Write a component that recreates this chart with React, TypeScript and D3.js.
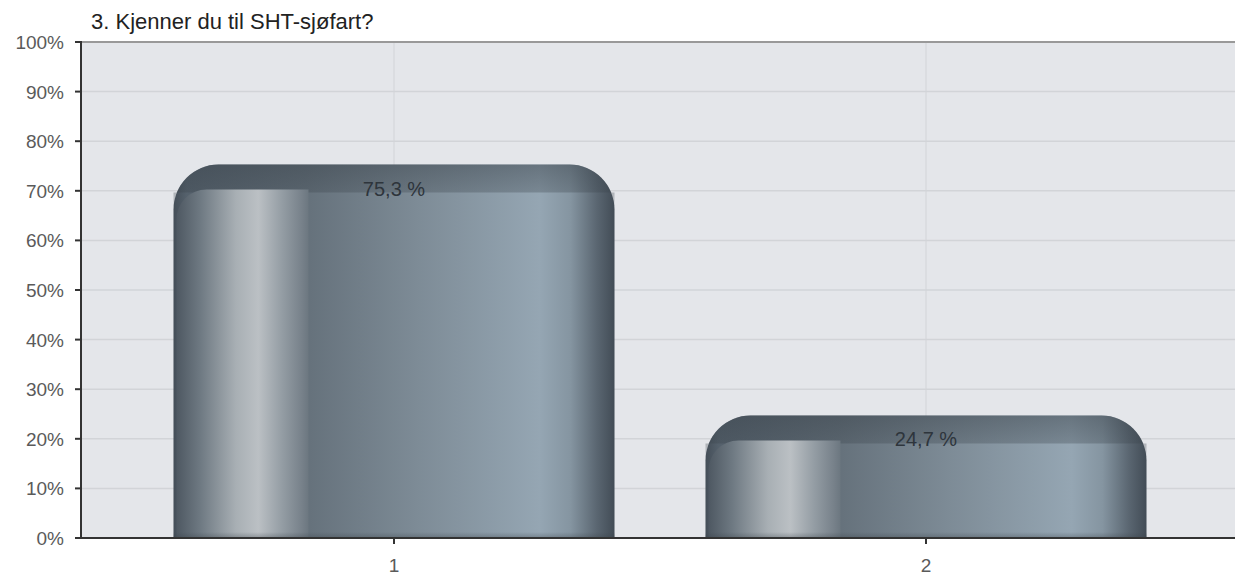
import React from "react";
import * as d3 from "d3";

const categories = ["1", "2"];
const values = [75.3, 24.7];
const valueLabels = ["75,3 %", "24,7 %"];
const yTicks = [0, 10, 20, 30, 40, 50, 60, 70, 80, 90, 100];
const title = "3. Kjenner du til SHT-sjøfart?";

const W = 1235;
const H = 576;
const left = 81;
const top = 42;
const bottom = 538;
const right = 1235;

export default function App() {
  const y = d3.scaleLinear().domain([0, 100]).range([bottom, top]);
  const x = d3.scaleBand().domain(categories).range([128, 1192]);
  const bw = x.bandwidth() * 0.829;
  const r = 45;
  const font = "Arial, 'Liberation Sans', sans-serif";

  const barPath = (x0: number, y0: number, w: number, h: number, rl: number, rr: number) => {
    const p = d3.path();
    p.moveTo(x0, y0 + h);
    p.lineTo(x0, y0 + rl);
    p.arcTo(x0, y0, x0 + rl, y0, rl);
    p.lineTo(x0 + w - rr, y0);
    if (rr > 0) p.arcTo(x0 + w, y0, x0 + w, y0 + rr, rr);
    else p.lineTo(x0 + w, y0);
    p.lineTo(x0 + w, y0 + h);
    p.closePath();
    return p.toString();
  };

  return (
    <svg width={W} height={H} style={{ position: "absolute", left: 0, top: 0, background: "#fff" }}>
      <defs>
        <linearGradient id="body" x1="0" x2="1" y1="0" y2="0">
          <stop offset="0" stopColor="#444e58" />
          <stop offset="0.03" stopColor="#55616c" />
          <stop offset="0.3" stopColor="#65717b" />
          <stop offset="0.55" stopColor="#7d8b96" />
          <stop offset="0.83" stopColor="#95a6b3" />
          <stop offset="0.9" stopColor="#8595a1" />
          <stop offset="0.96" stopColor="#5a6671" />
          <stop offset="1" stopColor="#424c56" />
        </linearGradient>
        <linearGradient id="hi" x1="0" x2="1" y1="0" y2="0">
          <stop offset="0" stopColor="#4e5862" />
          <stop offset="0.18" stopColor="#6e7982" />
          <stop offset="0.45" stopColor="#a8afb4" />
          <stop offset="0.62" stopColor="#bbc0c4" />
          <stop offset="0.8" stopColor="#949da4" />
          <stop offset="0.95" stopColor="#77818a" />
          <stop offset="1" stopColor="#6c7780" />
        </linearGradient>
        <linearGradient id="cap" x1="0" x2="0" y1="0" y2="1">
          <stop offset="0" stopColor="#39424a" stopOpacity="0.5" />
          <stop offset="0.8" stopColor="#39424a" stopOpacity="0.25" />
          <stop offset="1" stopColor="#39424a" stopOpacity="0" />
        </linearGradient>
        <linearGradient id="foot" x1="0" x2="0" y1="0" y2="1">
          <stop offset="0" stopColor="#39424a" stopOpacity="0" />
          <stop offset="1" stopColor="#39424a" stopOpacity="0.35" />
        </linearGradient>
      </defs>

      <rect x={left} y={top} width={right - left} height={bottom - top} fill="#e4e6ea" />
      {yTicks.slice(1, -1).map((t) => (
        <line key={t} x1={left} x2={right} y1={y(t)} y2={y(t)} stroke="#d2d4d8" strokeWidth={1.5} />
      ))}
      {categories.map((c) => (
        <line key={c} x1={x(c)! + x.bandwidth() / 2} x2={x(c)! + x.bandwidth() / 2} y1={top} y2={bottom} stroke="#d2d4d8" strokeWidth={1} />
      ))}
      <line x1={left} x2={right} y1={top} y2={top} stroke="#999" strokeWidth={2} />

      {categories.map((c, i) => {
        const cx = x(c)! + x.bandwidth() / 2;
        const x0 = cx - bw / 2;
        const y0 = y(values[i]);
        const h = bottom - y0;
        const capH = 25;
        return (
          <g key={c}>
            <path d={barPath(x0, y0, bw, h, r, r)} fill="url(#body)" />
            <path d={barPath(x0, y0, bw, capH + 3, r, r)} fill="url(#cap)" />
            <path d={barPath(x0 + 3, y0 + capH, 132, h - capH, 30, 0)} fill="url(#hi)" />
            <rect x={x0} y={bottom - 6} width={bw} height={6} fill="url(#foot)" />
            <text x={cx} y={y0 + 31} textAnchor="middle" fontFamily={font} fontSize={20} fill="#2e353c">
              {valueLabels[i]}
            </text>
          </g>
        );
      })}

      <line x1={left} x2={left} y1={top - 1} y2={bottom} stroke="#333" strokeWidth={2} />
      <line x1={left - 6} x2={right} y1={bottom} y2={bottom} stroke="#333" strokeWidth={2} />
      {yTicks.map((t) => (
        <g key={t}>
          <line x1={left - 6} x2={left} y1={y(t)} y2={y(t)} stroke="#333" strokeWidth={2} />
          <text x={64} y={y(t) + 7} textAnchor="end" fontFamily={font} fontSize={19} fill="#5a5a5a">
            {t}%
          </text>
        </g>
      ))}
      {categories.map((c) => {
        const cx = x(c)! + x.bandwidth() / 2;
        return (
          <g key={c}>
            <line x1={cx} x2={cx} y1={bottom} y2={bottom + 6} stroke="#333" strokeWidth={2} />
            <text x={cx} y={bottom + 34} textAnchor="middle" fontFamily={font} fontSize={19} fill="#5a5a5a">
              {c}
            </text>
          </g>
        );
      })}
      <text x={91} y={29} fontFamily={font} fontSize={22} fill="#222">
        {title}
      </text>
    </svg>
  );
}
